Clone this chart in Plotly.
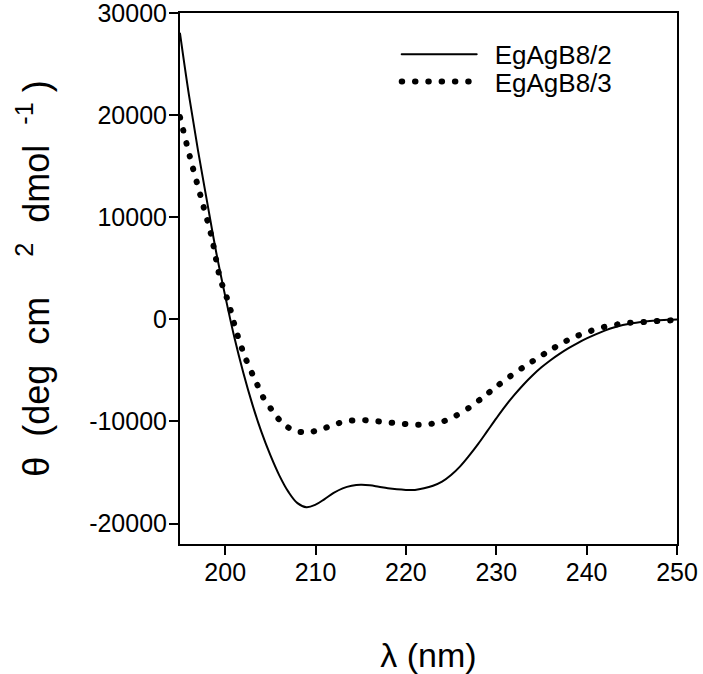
import plotly.graph_objects as go

# EgAgB8/2 (solid line)
wl_b82 = [195, 196, 197, 198, 199, 200, 201, 202, 203, 204, 205, 206, 207, 208, 209, 210,
          211, 212, 213, 214, 215, 216, 217, 218, 219, 220, 221, 222, 223, 224, 225, 226,
          227, 228, 229, 230, 231, 232, 233, 234, 235, 236, 237, 238, 239, 240, 241, 242,
          243, 244, 245, 246, 247, 248, 249, 250]
theta_b82 = [28000, 21900, 16500, 11500, 6600, 2300, -1700, -5200, -8300, -11000, -13300, -15300,
             -16900, -18000, -18400, -18150, -17600, -17000, -16550, -16300, -16200, -16250, -16400,
             -16550, -16650, -16700, -16700, -16550, -16300, -15900, -15250, -14400, -13350, -12200,
             -10950, -9700, -8500, -7400, -6400, -5500, -4700, -4000, -3380, -2820, -2320, -1870,
             -1470, -1110, -800, -560, -380, -250, -160, -100, -50, -20]

# EgAgB8/3 (dotted line)
wl_b83 = [195, 196.1, 197.3, 198.5, 199.4, 200.4, 201.2, 202.2, 203.5, 204.2, 205.2, 206.4, 207.8,
          209.3, 210.8, 212.3, 213.8, 215.3, 216.7, 218.2, 219.7, 221.2, 222.6, 224.1, 225.5, 227,
          228.5, 230, 231.5, 232.9, 234.5, 236.0, 237.5, 238.9, 240.4, 241.9, 243.4, 244.8, 246.3,
          247.8, 249.3, 250]
theta_b83 = [19800, 15900, 12000, 8070, 4150, 1540, -1080, -3700, -6300, -7620, -8920, -10230, -10950,
             -11050, -10720, -10230, -9930, -9870, -9970, -10100, -10230, -10330, -10260, -10000, -9450,
             -8650, -7650, -6600, -5600, -4740, -3830, -3000, -2220, -1640, -1150, -750, -490, -330,
             -260, -170, -100, -60]

series_names = ["EgAgB8/2", "EgAgB8/3"]
x_ticks = [200, 210, 220, 230, 240, 250]
y_ticks = [-20000, -10000, 0, 10000, 20000, 30000]

FONT = "Liberation Sans, Arial, sans-serif"
TICK_FS = 25
LEG_FS = 26
XTITLE_FS = 34
YTITLE_FS = 36
NBSP = "\u00a0"

fig = go.Figure()
fig.add_trace(go.Scatter(
    x=wl_b82, y=theta_b82, mode="lines", name=series_names[0],
    line=dict(color="black", width=2, shape="spline", smoothing=1.0),
    legend="legend",
))
fig.add_trace(go.Scatter(
    x=wl_b83, y=theta_b83, mode="lines", name=series_names[1],
    line=dict(color="black", width=6, dash="0.5px,12.8px", shape="spline", smoothing=0.8),
    legend="legend2",
))

leg_common = dict(
    xanchor="left", yanchor="middle", bgcolor="rgba(0,0,0,0)", borderwidth=0,
    font=dict(family=FONT, size=LEG_FS, color="black"), itemwidth=88,
)
fig.update_layout(
    width=703, height=674,
    margin=dict(l=180, r=26, t=13, b=130),
    paper_bgcolor="white", plot_bgcolor="white",
    font=dict(family=FONT, size=TICK_FS, color="black"),
    showlegend=True,
    legend=dict(x=0.436, y=0.922, **leg_common),
    legend2=dict(x=0.436, y=0.871, **leg_common),
)
axis_common = dict(
    ticks="outside", ticklen=9, tickwidth=2, tickcolor="black",
    showline=True, linewidth=2, linecolor="black", mirror=True,
    showgrid=False, zeroline=False, ticklabeloverflow="allow", automargin=False,
    tickfont=dict(family=FONT, size=TICK_FS, color="black"),
)
fig.update_xaxes(range=[195, 250], tickvals=x_ticks, ticktext=[str(v) for v in x_ticks],
                 ticklabelstandoff=-4,
                 title=dict(text="λ (nm)", font=dict(family=FONT, size=XTITLE_FS), standoff=59),
                 **axis_common)
fig.update_yaxes(range=[-22000, 30000], tickvals=y_ticks, ticktext=[str(v) for v in y_ticks],
                 ticklabelstandoff=-3,
                 title=dict(text=NBSP * 6 + "θ  (deg  cm    <sup>2</sup>  dmol  <sup>-1</sup> )",
                            font=dict(family=FONT, size=YTITLE_FS), standoff=29),
                 **axis_common)

# page/styling only: no body margin, round dot caps, longer legend line samples
post_js = """
document.body.style.margin = '0';
var gd = document.getElementById('{plot_id}');
gd.querySelectorAll('path.js-line').forEach(function(p){ p.style.strokeLinecap = 'round'; });
gd.querySelectorAll('.legendlines path.js-line').forEach(function(p){ p.setAttribute('d', 'M5,0h75'); });
"""
fig.write_html("out.html", post_script=post_js, config={"displayModeBar": False})
